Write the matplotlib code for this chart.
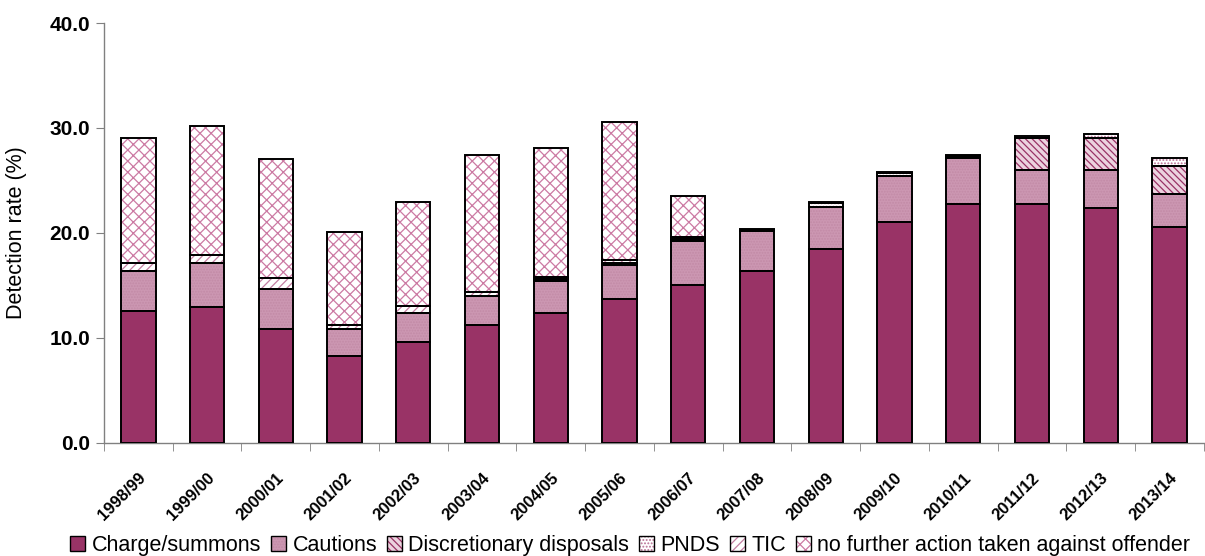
import numpy as np
import matplotlib
matplotlib.use('Agg')
from matplotlib import pyplot as plt
from matplotlib.patches import Patch
from matplotlib.transforms import ScaledTranslation

years = ['1998/99', '1999/00', '2000/01', '2001/02', '2002/03', '2003/04', '2004/05', '2005/06',
         '2006/07', '2007/08', '2008/09', '2009/10', '2010/11', '2011/12', '2012/13', '2013/14']
charge = [12.5, 12.9, 10.8, 8.3, 9.6, 11.2, 12.4, 13.7, 15.0, 16.4, 18.5, 21.0, 22.7, 22.7, 22.4, 20.6]
cautions = [3.9, 4.2, 3.8, 2.5, 2.8, 2.8, 3.0, 3.2, 4.2, 3.8, 4.0, 4.4, 4.4, 3.3, 3.6, 3.1]
discretionary = [0, 0, 0, 0, 0, 0, 0, 0, 0, 0, 0, 0, 0, 3.0, 3.0, 2.7]
pnds = [0, 0, 0, 0, 0, 0, 0.2, 0.2, 0.2, 0.1, 0.3, 0.3, 0.2, 0.2, 0.4, 0.7]
tic = [0.7, 0.8, 1.1, 0.4, 0.6, 0.4, 0.2, 0.3, 0.2, 0.1, 0.1, 0.1, 0.1, 0, 0, 0]
nfa = [11.9, 12.3, 11.3, 8.9, 9.9, 13.0, 12.3, 13.2, 3.9, 0, 0, 0, 0, 0, 0, 0]

# label, values, face colour, hatch, hatch colour
series = [
    ('Charge/summons', charge, '#993366', None, None),
    ('Cautions', cautions, '#cc97b2', '......', '#c28aa6'),
    ('Discretionary disposals', discretionary, '#ecd3df', '\\\\\\\\\\', '#993366'),
    ('PNDS', pnds, 'white', '.....', '#b86f94'),
    ('TIC', tic, 'white', '////', '#c47fa2'),
    ('no further action taken against offender', nfa, 'white', 'xxx', '#cc7aa3'),
]

plt.rcParams['font.family'] = ['Liberation Sans', 'DejaVu Sans']
plt.rcParams['hatch.linewidth'] = 0.9

fig = plt.figure(figsize=(12.05, 5.56), dpi=100)
ax = fig.add_axes([0.0863, 0.204, 0.9127, 0.7546])

x = np.arange(len(years))
width = 0.5
bottom = np.zeros(len(years))
handles = []
for label, vals, face, hatch, hcol in series:
    vals = np.array(vals, dtype=float)
    keep = vals > 0
    if hatch:
        ax.bar(x[keep], vals[keep], width, bottom=bottom[keep], color=face,
               edgecolor=hcol, hatch=hatch, linewidth=0, zorder=2)
    else:
        ax.bar(x[keep], vals[keep], width, bottom=bottom[keep], color=face,
               linewidth=0, zorder=2)
    # black outline drawn separately so the hatch keeps its own colour
    ax.bar(x[keep], vals[keep], width, bottom=bottom[keep], facecolor='none',
           edgecolor='black', linewidth=1.4, zorder=3)
    fill = Patch(facecolor=face, edgecolor=hcol if hcol else face, hatch=hatch, linewidth=0)
    frame = Patch(facecolor='none', edgecolor='black', linewidth=1.0)
    handles.append((fill, frame))
    bottom += vals

ax.set_xlim(-0.5, len(years) - 0.5)
ax.set_ylim(0, 40)
ax.set_yticks([0, 10, 20, 30, 40])
ax.set_yticklabels(['%.1f' % v for v in [0, 10, 20, 30, 40]], fontsize=15, fontweight='bold')
ax.set_ylabel('Detection rate (%)', fontsize=15.5, labelpad=16)

ax.set_xticks(x)
ax.set_xticklabels(years, rotation=45, ha='right', rotation_mode='anchor',
                   fontsize=12, fontweight='bold')
shift = ScaledTranslation(-7 / 72, 0, fig.dpi_scale_trans)
for lab in ax.get_xticklabels():
    lab.set_transform(lab.get_transform() + shift)
ax.tick_params(axis='x', length=0, pad=20)
ax.set_xticks(np.arange(-0.5, len(years), 1.0), minor=True)
ax.tick_params(axis='x', which='minor', length=6, color='#808080', direction='out')
ax.tick_params(axis='y', length=6, color='#808080', direction='out', pad=4)

for side in ['top', 'right']:
    ax.spines[side].set_visible(False)
for side in ['left', 'bottom']:
    ax.spines[side].set_color('#808080')
    ax.spines[side].set_linewidth(1.0)

fig.legend(handles, [s[0] for s in series], loc='lower center', ncol=6,
           bbox_to_anchor=(0.523, -0.035), frameon=False, prop={'size': 15.5},
           handlelength=0.7, handleheight=0.7, handletextpad=0.3, columnspacing=0.45)

fig.savefig('out.png', dpi=100)
